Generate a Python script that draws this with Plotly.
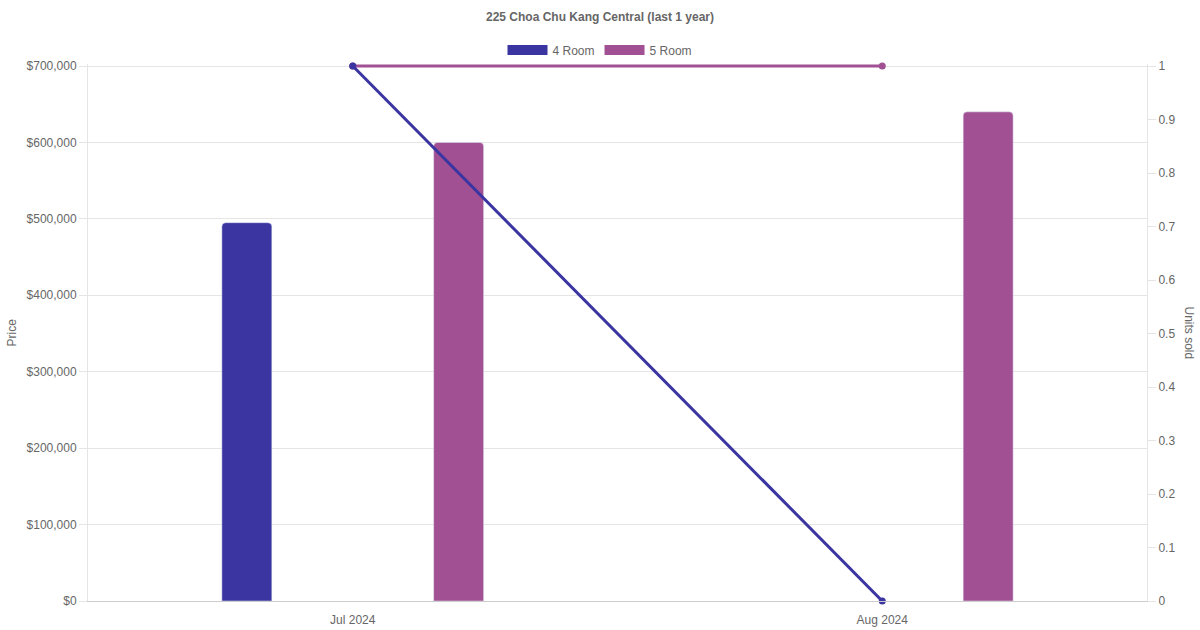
import plotly.graph_objects as go

title = "225 Choa Chu Kang Central (last 1 year)"
months = ["Jul 2024", "Aug 2024"]
series_names = ["4 Room", "5 Room"]
price_4room = [495000, None]
price_5room = [600000, 640000]
units_4room = [1, 0]
units_5room = [1, 1]
price_ticks = [0, 100000, 200000, 300000, 400000, 500000, 600000, 700000]
unit_ticks = [0, 0.1, 0.2, 0.3, 0.4, 0.5, 0.6, 0.7, 0.8, 0.9, 1]

c4 = "#3a35a0"
c5 = "#a05093"
txt = "#666666"
grid = "#e5e5e5"
FONT = "Liberation Sans, Arial, sans-serif"

# plot area in pixels (top extended 2px so the line at max is not clipped)
L, R, T, B = 88, 1147, 64, 601
pad = (B - T) / (B - 66)

fig = go.Figure()
fig.add_trace(go.Bar(x=months, y=price_4room, name=series_names[0], marker_color=c4,
                     showlegend=False, yaxis="y"))
fig.add_trace(go.Bar(x=months, y=price_5room, name=series_names[1], marker_color=c5,
                     showlegend=False, yaxis="y"))
fig.add_trace(go.Scatter(x=months, y=units_5room, name=series_names[1], mode="lines+markers",
                         line=dict(color=c5, width=3), marker=dict(size=7, color=c5),
                         yaxis="y2", cliponaxis=False, showlegend=False))
fig.add_trace(go.Scatter(x=months, y=units_4room, name=series_names[0], mode="lines+markers",
                         line=dict(color=c4, width=3), marker=dict(size=7, color=c4),
                         yaxis="y2", cliponaxis=False, showlegend=False))
# legend entries
for nm, col in zip(series_names, [c4, c5]):
    fig.add_trace(go.Scatter(x=[None], y=[None], name=nm, mode="lines",
                             line=dict(color=col, width=12), yaxis="y2", showlegend=True))

pw = R - L
fig.update_layout(
    width=1200, height=630,
    paper_bgcolor="white", plot_bgcolor="white",
    margin=dict(l=L, r=1200 - R, t=T, b=630 - B, autoexpand=False),
    font=dict(family=FONT, size=12, color=txt),
    title=dict(text="<b>" + title + "</b>", x=0.5, xanchor="center", y=1 - 17 / 630, yanchor="middle",
               font=dict(size=12, color=txt, family=FONT)),
    barmode="group", bargap=0.2, bargroupgap=0.764, barcornerradius=4,
    legend=dict(orientation="h", x=0.5, xanchor="center", xref="container",
                y=1 - 50 / 630, yanchor="middle", yref="container",
                font=dict(size=12, color=txt), itemwidth=40, bgcolor="rgba(0,0,0,0)"),
    xaxis=dict(type="category", range=[-0.5, 1.5], showgrid=False, showline=True,
               linecolor="#cccccc", linewidth=1, ticks="", tickfont=dict(size=12, color=txt),
               ticklabelstandoff=8, zeroline=False),
    yaxis=dict(range=[0, 700000 * pad], tickvals=price_ticks,
               ticktext=["$" + format(v, ",") for v in price_ticks],
               showgrid=True, gridcolor=grid, gridwidth=1, showline=True, linecolor=grid,
               ticks="outside", ticklen=8, tickcolor=grid, zeroline=False,
               tickfont=dict(size=12, color=txt)),
    yaxis2=dict(range=[0, 1 * pad], tickvals=unit_ticks, ticktext=[format(v, "g") for v in unit_ticks],
                overlaying="y", side="right", showgrid=False, showline=True, linecolor=grid,
                ticks="outside", ticklen=8, tickcolor=grid, zeroline=False,
                tickfont=dict(size=12, color=txt)),
    annotations=[
        dict(text="Price", x=(11 - L) / pw, y=0.5, xref="paper", yref="paper", showarrow=False,
             textangle=-90, font=dict(size=12, color=txt), xanchor="center", yanchor="middle"),
        dict(text="Units sold", x=(1189 - L) / pw, y=0.5, xref="paper", yref="paper", showarrow=False,
             textangle=90, font=dict(size=12, color=txt), xanchor="center", yanchor="middle"),
    ],
)

fig.write_html("out.html", config={"displayModeBar": False},
               post_script="document.body.style.margin='0';")
